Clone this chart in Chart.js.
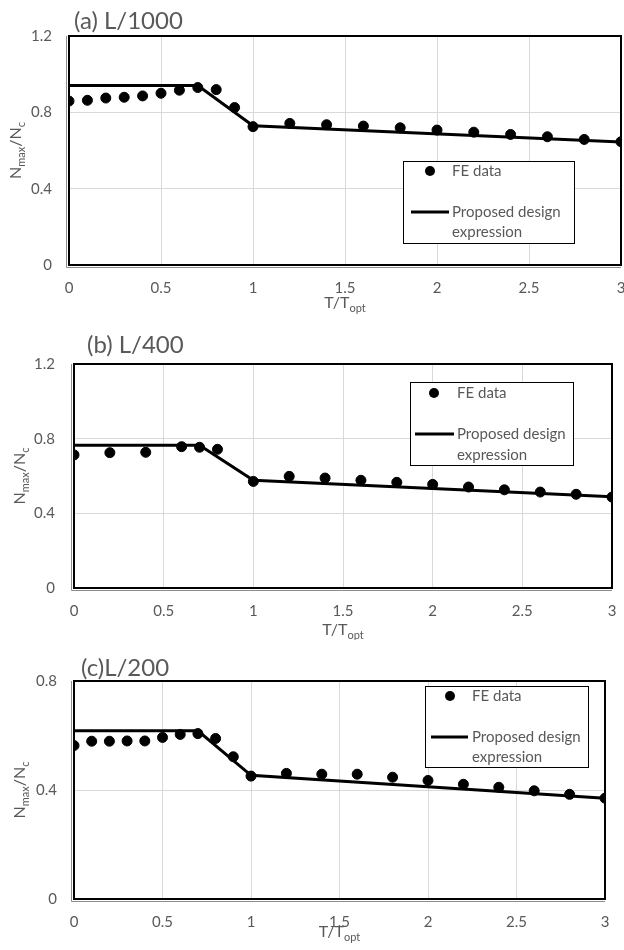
<!DOCTYPE html>
<html lang="en">
<head>
<meta charset="UTF-8">
<title>Nmax/Nc against T/Topt</title>
<script src="https://cdn.jsdelivr.net/npm/chart.js"></script>
<style>
  body { margin: 0; background: #fff; }
  .panel { position: absolute; left: 0; width: 624px; }
</style>
</head>
<body>
<div class="panel" style="top:0;height:320px"><canvas id="chart-a"></canvas></div>
<div class="panel" style="top:320px;height:320px"><canvas id="chart-b"></canvas></div>
<div class="panel" style="top:640px;height:310px"><canvas id="chart-c"></canvas></div>

<script>
// (a) L/1000
const tFE_a = [0, 0.1, 0.2, 0.3, 0.4, 0.5, 0.6, 0.7, 0.8, 0.9, 1, 1.2, 1.4, 1.6, 1.8, 2, 2.2, 2.4, 2.6, 2.8, 3];
const fe_a = [0.859, 0.863, 0.875, 0.879, 0.886, 0.900, 0.916, 0.930, 0.919, 0.825, 0.725, 0.742, 0.735, 0.728, 0.719, 0.707, 0.696, 0.684, 0.672, 0.658, 0.646];
const tDesign_a = [0, 0.7, 1, 3];
const design_a = [0.94, 0.94, 0.73, 0.645];

// (b) L/400
const tFE_b = [0, 0.2, 0.4, 0.6, 0.7, 0.8, 1, 1.2, 1.4, 1.6, 1.8, 2, 2.2, 2.4, 2.6, 2.8, 3];
const fe_b = [0.713, 0.725, 0.727, 0.757, 0.754, 0.743, 0.571, 0.598, 0.589, 0.577, 0.566, 0.555, 0.541, 0.526, 0.514, 0.502, 0.487];
const tDesign_b = [0, 0.7, 1, 3];
const design_b = [0.765, 0.765, 0.577, 0.489];

// (c) L/200
const tFE_c = [0, 0.1, 0.2, 0.3, 0.4, 0.5, 0.6, 0.7, 0.8, 0.9, 1, 1.2, 1.4, 1.6, 1.8, 2, 2.2, 2.4, 2.6, 2.8, 3];
const fe_c = [0.563, 0.579, 0.579, 0.580, 0.580, 0.593, 0.604, 0.607, 0.589, 0.522, 0.451, 0.461, 0.458, 0.458, 0.447, 0.435, 0.421, 0.410, 0.397, 0.384, 0.370];
const tDesign_c = [0, 0.7, 1, 3];
const design_c = [0.617, 0.617, 0.454, 0.370];

const panelTitles = ['(a) L/1000', '(b) L/400', '(c)L/200'];
const legendLabels = ['FE data', 'Proposed design', 'expression'];
const yTitleParts = [['N', false], ['max', true], ['/N', false], ['c', true]];
const xTitleParts = [['T/T', false], ['opt', true]];

const GREY = '#595959';
Chart.defaults.font.family = 'Lato';
Chart.defaults.color = GREY;

function toPoints(xs, ys) {
  return xs.map((x, i) => ({ x, y: ys[i] }));
}

// text with subscripts, centred on cx, baseline at by
function drawRich(ctx, parts, cx, by) {
  const widths = parts.map(([t, sub]) => {
    ctx.font = (sub ? '11px' : '16px') + ' Lato';
    return ctx.measureText(t).width;
  });
  let x = cx - widths.reduce((a, b) => a + b, 0) / 2;
  parts.forEach(([t, sub], i) => {
    ctx.font = (sub ? '11px' : '16px') + ' Lato';
    ctx.fillText(t, x, sub ? by + 4 : by);
    x += widths[i];
  });
}

const decorPlugin = {
  id: 'decor',
  beforeDatasetsDraw(chart, args, o) {
    const { ctx, chartArea: a } = chart;
    ctx.save();
    // grey axis lines just outside the frame
    ctx.strokeStyle = '#8c8c8c';
    ctx.lineWidth = 1;
    ctx.beginPath();
    ctx.moveTo(a.left - 2.5, a.top);
    ctx.lineTo(a.left - 2.5, a.bottom + 2.5);
    ctx.lineTo(a.right, a.bottom + 2.5);
    ctx.stroke();
    // black plot frame
    ctx.strokeStyle = '#000';
    ctx.lineWidth = 2;
    ctx.strokeRect(a.left, a.top, a.right - a.left, a.bottom - a.top);
    ctx.restore();
  },
  afterDraw(chart, args, o) {
    const { ctx, chartArea: a } = chart;
    ctx.save();
    ctx.fillStyle = GREY;

    // panel label
    ctx.font = '24px Lato';
    ctx.textBaseline = 'middle';
    ctx.textAlign = 'left';
    ctx.fillText(o.title, o.titleX, o.titleY);

    // axis titles
    ctx.textBaseline = 'alphabetic';
    ctx.textAlign = 'left';
    drawRich(ctx, xTitleParts, (a.left + a.right) / 2, a.bottom + o.xTitleGap);
    ctx.save();
    ctx.translate(o.yTitleX, (a.top + a.bottom) / 2);
    ctx.rotate(-Math.PI / 2);
    drawRich(ctx, yTitleParts, 0, 0);
    ctx.restore();

    // legend box
    const L = o.legend;
    ctx.fillStyle = '#fff';
    ctx.fillRect(L.x, L.y, L.w, L.h);
    ctx.strokeStyle = '#000';
    ctx.lineWidth = 1;
    ctx.strokeRect(L.x + 0.5, L.y + 0.5, L.w, L.h);
    ctx.fillStyle = '#000';
    ctx.beginPath();
    ctx.arc(L.markX, L.row1, 5, 0, Math.PI * 2);
    ctx.fill();
    ctx.lineWidth = 3;
    ctx.beginPath();
    ctx.moveTo(L.lineX1, L.row2);
    ctx.lineTo(L.lineX2, L.row2);
    ctx.stroke();
    ctx.fillStyle = GREY;
    ctx.font = '15px Lato';
    ctx.textBaseline = 'middle';
    ctx.fillText(legendLabels[0], L.textX, L.row1);
    ctx.fillText(legendLabels[1], L.textX, L.row2);
    ctx.fillText(legendLabels[2], L.textX, L.row3);
    ctx.restore();
  }
};

function makePanel(id, tFE, fe, tD, design, yMax, lay) {
  return new Chart(document.getElementById(id), {
    type: 'scatter',
    data: {
      datasets: [
        {
          label: legendLabels[0],
          data: toPoints(tFE, fe),
          backgroundColor: '#000',
          borderColor: '#000',
          pointRadius: 5,
          showLine: false
        },
        {
          label: legendLabels[1] + ' ' + legendLabels[2],
          data: toPoints(tD, design),
          borderColor: '#000',
          borderWidth: 3,
          pointRadius: 0,
          showLine: true
        }
      ]
    },
    options: {
      responsive: true,
      maintainAspectRatio: false,
      animation: false,
      layout: {
        autoPadding: false,
        padding: { top: lay.top, right: lay.right, left: 0, bottom: 0 }
      },
      plugins: {
        legend: { display: false },
        tooltip: { enabled: false },
        decor: lay.decor
      },
      scales: {
        x: {
          type: 'linear',
          min: 0,
          max: 3,
          // fixed axis height; drop the end-label overhang so the plot reaches the edge
          afterFit: s => { s.height = lay.xAxisH; s.paddingLeft = 0; s.paddingRight = 0; },
          ticks: {
            stepSize: 0.5,
            padding: lay.xPad,
            font: { size: 15 },
            callback: v => String(+v.toFixed(1))
          },
          grid: { color: '#d9d9d9', drawTicks: false },
          border: { display: false }
        },
        y: {
          min: 0,
          max: yMax,
          afterFit: s => { s.width = lay.yAxisW; s.paddingTop = 0; s.paddingBottom = 0; },
          ticks: {
            stepSize: 0.4,
            padding: lay.yPad,
            font: { size: 15 },
            callback: v => String(+v.toFixed(1))
          },
          grid: { color: '#d9d9d9', drawTicks: false },
          border: { display: false }
        }
      }
    },
    plugins: [decorPlugin]
  });
}

makePanel('chart-a', tFE_a, fe_a, tDesign_a, design_a, 1.2, {
  top: 36, right: 3, xAxisH: 55, yAxisW: 69, xPad: 14, yPad: 17,
  decor: {
    title: panelTitles[0], titleX: 74, titleY: 21, xTitleGap: 43, yTitleX: 21,
    legend: { x: 403, y: 161, w: 171, h: 82, markX: 430, row1: 171, row2: 212, row3: 232, lineX1: 411, lineX2: 449, textX: 452 }
  }
});

makePanel('chart-b', tFE_b, fe_b, tDesign_b, design_b, 1.2, {
  top: 44, right: 12, xAxisH: 52, yAxisW: 74, xPad: 14, yPad: 19,
  decor: {
    title: panelTitles[1], titleX: 87, titleY: 25, xTitleGap: 47, yTitleX: 25,
    legend: { x: 410, y: 62, w: 163, h: 83, markX: 434, row1: 73, row2: 114, row3: 135, lineX1: 415, lineX2: 454, textX: 457 }
  }
});

makePanel('chart-c', tFE_c, fe_c, tDesign_c, design_c, 0.8, {
  top: 41, right: 19, xAxisH: 51, yAxisW: 74, xPad: 14, yPad: 17,
  decor: {
    title: panelTitles[2], titleX: 81, titleY: 28, xTitleGap: 38, yTitleX: 25,
    legend: { x: 425, y: 46, w: 163, h: 81, markX: 450, row1: 56, row2: 97, row3: 117, lineX1: 431, lineX2: 468, textX: 472 }
  }
});
</script>
</body>
</html>
